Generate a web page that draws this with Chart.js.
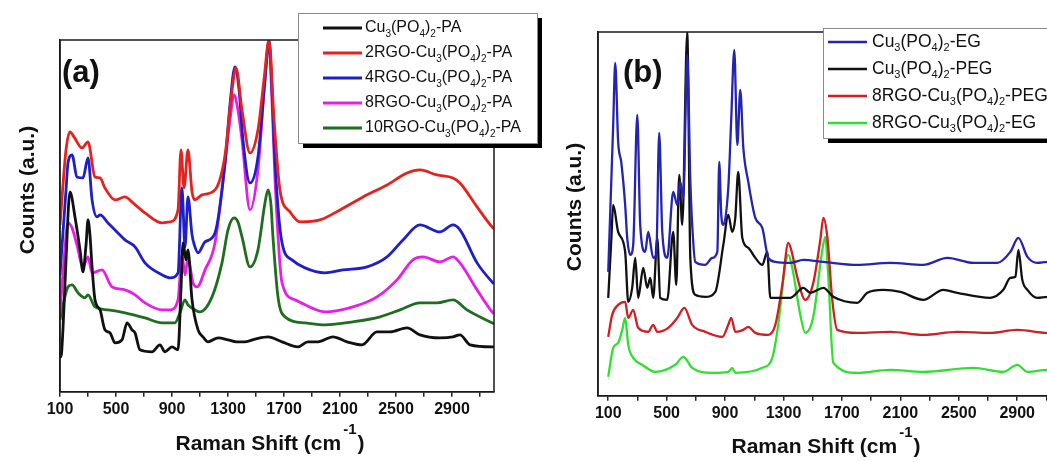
<!DOCTYPE html>
<html>
<head>
<meta charset="utf-8">
<script src="https://cdn.jsdelivr.net/npm/chart.js@4.4.1/dist/chart.umd.min.js"></script>
<style>
html, body { margin: 0; padding: 0; background: #fff; overflow: hidden; }
#wrap { position: relative; width: 1047px; height: 462px; overflow: hidden; }
#chartA { position: absolute; left: 0; top: 0; }
#chartB { position: absolute; left: 550px; top: 0; }
</style>
</head>
<body>
<div id="wrap">
  <canvas id="chartA" width="550" height="462"></canvas>
  <canvas id="chartB" width="540" height="462"></canvas>
</div>
<script>
const FONT = '"Liberation Sans", Arial, sans-serif';

// x axis ticks (Raman shift, cm-1): marks every 200, labels every 400
const tickMarks = [100, 300, 500, 700, 900, 1100, 1300, 1500, 1700, 1900, 2100, 2300, 2500, 2700, 2900, 3100];
const tickLabels = [100, 500, 900, 1300, 1700, 2100, 2500, 2900];

// ---- panel (a): [Raman shift, counts a.u.] ----
const labelsA = ['Cu₃(PO₄)₂-PA', '2RGO-Cu₃(PO₄)₂-PA', '4RGO-Cu₃(PO₄)₂-PA', '8RGO-Cu₃(PO₄)₂-PA', '10RGO-Cu₃(PO₄)₂-PA'];
const colorsA = ['#111111', '#e2231f', '#1f1fc8', '#e61ee6', '#1f6e1f'];

const pa_plain = [[100,35],[107,35],[121,62],[143,132],[171,200],[207,175],[243,142],[264,120],[286,147],[300,172],[314,157],[329,125],[350,92],[386,82],[421,62],[457,59],[493,49],[543,52],[579,69],[614,62],[636,59],[671,42],[757,40],[814,47],[850,40],[900,45],[943,42],[964,102],[979,149],[1000,132],[1014,142],[1043,92],[1086,62],[1121,55],[1157,50],[1230,54],[1300,52],[1360,50],[1421,50],[1500,53],[1586,55],[1686,50],[1800,45],[1870,50],[1943,50],[2050,55],[2150,50],[2257,47],[2364,60],[2457,60],[2579,64],[2671,57],[2814,54],[2907,55],[2957,57],[3029,47],[3186,45],[3200,45]];
const pa_rgo2 = [[100,167],[143,242],[171,260],[200,255],[257,244],[300,250],[350,215],[386,214],[421,204],[493,192],[564,195],[621,189],[707,179],[829,169],[886,170],[943,182],[964,242],[986,204],[1014,242],[1043,200],[1064,192],[1114,197],[1207,202],[1279,237],[1329,302],[1357,324],[1400,282],[1457,239],[1514,262],[1557,312],[1593,352],[1629,272],[1671,202],[1743,180],[1814,170],[1957,172],[2100,182],[2264,195],[2436,207],[2579,219],[2671,222],[2793,217],[2907,214],[2957,209],[3079,185],[3186,165],[3200,163]];
const pa_rgo4 = [[100,117],[143,202],[157,229],[186,237],[221,215],[264,214],[300,234],[329,192],[364,175],[386,177],[443,169],[514,159],[564,152],[636,145],[707,129],[829,117],[886,114],[943,119],[971,204],[993,145],[1014,195],[1043,157],[1064,145],[1086,139],[1136,150],[1207,159],[1279,229],[1314,287],[1350,325],[1379,302],[1407,252],[1457,209],[1514,235],[1564,312],[1593,352],[1614,302],[1636,229],[1686,149],[1757,132],[1850,124],[1993,119],[2121,122],[2293,125],[2436,135],[2550,152],[2671,167],[2814,160],[2907,167],[2957,162],[3079,129],[3186,110],[3200,108]];
const pa_rgo8 = [[100,79],[129,132],[157,169],[186,164],[221,147],[264,125],[300,135],[329,119],[400,122],[471,105],[564,102],[636,97],[707,89],[829,82],[886,82],[943,92],[971,137],[993,117],[1014,134],[1050,109],[1079,105],[1136,122],[1207,149],[1279,229],[1314,272],[1343,297],[1371,282],[1400,252],[1457,182],[1514,222],[1564,312],[1593,349],[1614,292],[1636,212],[1686,109],[1779,92],[1993,80],[2193,85],[2364,95],[2507,112],[2621,132],[2693,135],[2814,130],[2907,135],[2957,129],[3079,102],[3186,80],[3200,78]];
const pa_rgo10 = [[100,72],[157,105],[186,107],[229,99],[279,94],[300,97],[350,85],[443,82],[564,79],[707,74],[829,69],[921,69],[957,79],[993,92],[1014,87],[1064,82],[1100,80],[1186,95],[1257,129],[1300,162],[1343,174],[1371,170],[1400,155],[1457,125],[1514,142],[1564,189],[1586,202],[1607,187],[1621,155],[1657,95],[1707,75],[1850,69],[1993,67],[2193,70],[2386,75],[2529,82],[2671,89],[2793,89],[2907,92],[3007,82],[3186,69],[3200,68]];
const seriesA = [pa_plain, pa_rgo2, pa_rgo4, pa_rgo8, pa_rgo10];

// ---- panel (b): [Raman shift, counts a.u.] ----
const labelsB = ['Cu₃(PO₄)₂-EG', 'Cu₃(PO₄)₂-PEG', '8RGO-Cu₃(PO₄)₂-PEG', '8RGO-Cu₃(PO₄)₂-EG'];
const colorsB = ['#2424b0', '#111111', '#d01e22', '#2fe02f'];

const pb_eg = [[100,124],[134,271],[148,333],[168,254],[189,234],[216,191],[230,158],[251,141],[271,151],[299,281],[319,171],[353,144],[374,164],[408,138],[429,141],[449,263],[470,164],[504,138],[545,204],[573,191],[593,214],[614,198],[641,341],[662,216],[675,171],[696,134],[764,131],[812,138],[847,144],[860,234],[874,181],[888,171],[922,208],[942,276],[963,346],[984,251],[1004,306],[1025,248],[1059,214],[1107,178],[1155,168],[1196,138],[1244,134],[1347,133],[1436,136],[1573,134],[1805,131],[2031,133],[2257,131],[2422,138],[2600,133],[2764,133],[2853,144],[2908,158],[2970,139],[3038,133],[3107,134],[3200,133]];
const pb_peg = [[100,98],[121,156],[134,191],[168,164],[216,144],[237,94],[264,108],[285,138],[305,98],[340,128],[367,108],[388,118],[408,98],[436,158],[456,98],[504,96],[545,164],[566,111],[586,221],[607,171],[641,364],[662,138],[696,101],[764,99],[833,104],[888,151],[922,181],[949,164],[970,178],[990,224],[1018,158],[1059,148],[1107,138],[1155,131],[1189,144],[1210,98],[1292,98],[1347,98],[1436,108],[1484,103],[1573,108],[1641,99],[1805,93],[1874,103],[1983,106],[2100,104],[2257,96],[2394,106],[2490,103],[2716,98],[2805,106],[2853,118],[2888,119],[2908,146],[2935,116],[2970,106],[3038,98],[3107,99],[3200,98]];
const pb_rgo_peg = [[100,59],[127,81],[168,91],[216,94],[237,78],[271,86],[305,68],[374,64],[408,71],[436,64],[511,68],[573,78],[621,88],[675,71],[764,64],[881,59],[922,71],[942,78],[970,64],[1025,66],[1059,69],[1107,63],[1196,61],[1244,71],[1292,111],[1333,153],[1353,146],[1394,119],[1449,96],[1504,113],[1552,156],[1573,178],[1600,159],[1634,96],[1668,66],[1805,63],[2031,64],[2257,61],[2490,64],[2716,63],[2901,66],[3107,63],[3200,63]];
const pb_rgo_eg = [[100,19],[134,48],[168,53],[196,66],[216,78],[237,51],[271,38],[333,31],[422,24],[559,31],[614,39],[675,28],[812,23],[922,24],[949,28],[970,23],[1155,28],[1223,38],[1264,71],[1312,131],[1333,141],[1360,128],[1415,81],[1449,63],[1504,79],[1566,146],[1586,159],[1607,119],[1641,33],[1805,23],[2031,26],[2257,24],[2600,28],[2805,24],[2901,31],[2970,24],[3107,26],[3200,26]];
const seriesB = [pb_eg, pb_peg, pb_rgo_peg, pb_rgo_eg];

// draws a label where unicode subscript digits are set smaller and lowered
const SUBS = '₀₁₂₃₄₅₆₇₈₉';
function drawRich(ctx, text, x, y, size) {
  let cx = x;
  let run = '', sub = false;
  const flush = () => {
    if (!run) return;
    const s = sub ? Math.round(size * 0.64) : size;
    ctx.font = `${s}px ${FONT}`;
    ctx.fillText(run, cx, sub ? y + size * 0.36 : y);
    cx += ctx.measureText(run).width;
    run = '';
  };
  for (const ch of text) {
    const k = SUBS.indexOf(ch);
    const isSub = k >= 0;
    if (isSub !== sub) { flush(); sub = isSub; }
    run += isSub ? String(k) : ch;
  }
  flush();
}

const panelDecor = {
  id: 'panelDecor',
  afterDraw(chart, args, o) {
    const ctx = chart.ctx;
    const a = chart.chartArea;
    ctx.save();

    // box round the plot
    ctx.strokeStyle = '#1a1a1a';
    ctx.lineWidth = 1.5;
    ctx.strokeRect(a.left, a.top, a.right - a.left, a.bottom - a.top);

    ctx.fillStyle = '#111';
    ctx.textBaseline = 'middle';
    ctx.textAlign = 'left';
    ctx.font = `bold 31px ${FONT}`;
    ctx.fillText(o.letter, o.letterX, o.letterY);

    // y title
    ctx.save();
    ctx.translate(o.yTitleX, o.yTitleY);
    ctx.rotate(-Math.PI / 2);
    ctx.textAlign = 'center';
    ctx.font = `bold 21px ${FONT}`;
    ctx.fillText('Counts (a.u.)', 0, 0);
    ctx.restore();

    // x title with superscript
    ctx.textBaseline = 'alphabetic';
    ctx.font = `bold 21px ${FONT}`;
    const t1 = 'Raman Shift (cm', t3 = ')';
    const w1 = ctx.measureText(t1).width;
    const w3 = ctx.measureText(t3).width;
    ctx.font = `bold 15px ${FONT}`;
    const w2 = ctx.measureText('-1').width + 3;
    let sx = o.xTitleX - (w1 + w2 + w3) / 2;
    ctx.font = `bold 21px ${FONT}`;
    ctx.fillText(t1, sx, o.xTitleY);
    ctx.font = `bold 15px ${FONT}`;
    ctx.fillText('-1', sx + w1 + 2, o.xTitleY - 16);
    ctx.font = `bold 21px ${FONT}`;
    ctx.fillText(t3, sx + w1 + w2, o.xTitleY);

    // legend box with drop shadow
    const L = o.legend;
    ctx.fillStyle = '#000';
    ctx.fillRect(L.x + 5, L.y + 5, L.w, L.h);
    ctx.fillStyle = '#fff';
    ctx.fillRect(L.x, L.y, L.w, L.h);
    ctx.strokeStyle = '#8a8a8a';
    ctx.lineWidth = 1;
    ctx.strokeRect(L.x + 0.5, L.y + 0.5, L.w, L.h);
    ctx.textBaseline = 'middle';
    chart.data.datasets.forEach((ds, i) => {
      const y = L.y + L.row0 + i * L.gap;
      ctx.strokeStyle = ds.borderColor;
      ctx.lineWidth = L.lw;
      ctx.beginPath();
      ctx.moveTo(L.x + L.line0, y);
      ctx.lineTo(L.x + L.line1, y);
      ctx.stroke();
      ctx.fillStyle = '#111';
      drawRich(ctx, ds.label, L.x + L.text0, y, L.size);
    });
    ctx.restore();
  }
};

function makePanel(id, labels, colors, series, lw, xMin, yMax, padding, decor) {
  return new Chart(document.getElementById(id), {
    type: 'line',
    data: {
      datasets: series.map((s, i) => ({
        label: labels[i],
        data: s.map(p => ({ x: p[0], y: p[1] })),
        borderColor: colors[i],
        borderWidth: lw,
        pointRadius: 0,
        fill: false,
        cubicInterpolationMode: 'monotone'
      }))
    },
    options: {
      responsive: false,
      animation: false,
      events: [],
      layout: { padding: padding },
      plugins: { legend: { display: false }, tooltip: { enabled: false }, panelDecor: decor },
      scales: {
        x: {
          type: 'linear',
          min: xMin,
          max: 3200,
          afterBuildTicks: scale => { scale.ticks = tickMarks.map(v => ({ value: v })); },
          ticks: {
            autoSkip: false,
            maxRotation: 0,
            padding: 3,
            color: '#111',
            font: { family: FONT, size: 16, weight: 'bold' },
            callback: v => tickLabels.includes(v) ? String(v) : ''
          },
          grid: { drawOnChartArea: false, drawTicks: true, tickLength: 5, color: '#222', lineWidth: 1.5 },
          border: { display: true, color: '#1a1a1a', width: 1.5 }
        },
        y: {
          min: 0,
          max: yMax,
          ticks: { display: false },
          grid: { display: false, drawTicks: false },
          border: { display: true, color: '#1a1a1a', width: 1.5 }
        }
      }
    },
    plugins: [panelDecor]
  });
}

makePanel('chartA', labelsA, colorsA, seriesA, 2.8, 100, 352,
  { left: 60, top: 40, right: 56, bottom: 40 },
  {
    letter: '(a)', letterX: 62, letterY: 73,
    yTitleX: 28, yTitleY: 190,
    xTitleX: 270, xTitleY: 450,
    legend: { x: 298, y: 13, w: 239, h: 130, row0: 15, gap: 25, line0: 25, line1: 64, text0: 67, size: 16, lw: 3 }
  });

makePanel('chartB', labelsB, colorsB, seriesB, 2.3, 30, 364,
  { left: 48, top: 32, right: 29, bottom: 36 },
  {
    letter: '(b)', letterX: 73, letterY: 73,
    yTitleX: 25, yTitleY: 207,
    xTitleX: 276, xTitleY: 453,
    legend: { x: 273, y: 28, w: 250, h: 110, row0: 14, gap: 27, line0: 5, line1: 44, text0: 49, size: 17.5, lw: 2.5 }
  });
</script>
</body>
</html>
